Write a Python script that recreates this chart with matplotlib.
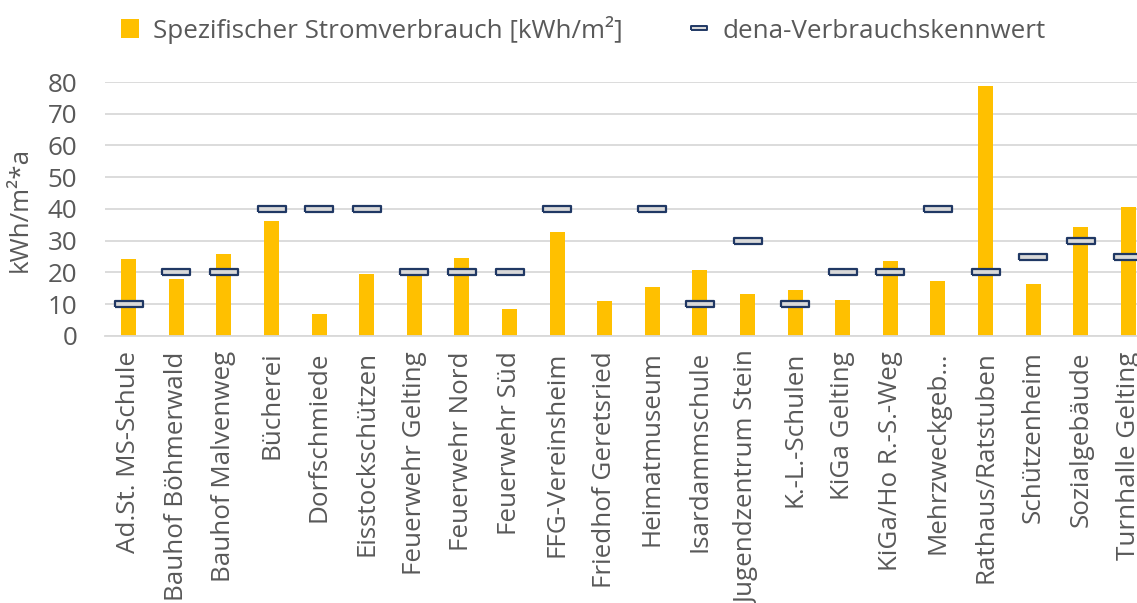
import matplotlib
matplotlib.use("Agg")
import matplotlib.pyplot as plt
from matplotlib.lines import Line2D
from matplotlib.patches import Patch
import numpy as np

plt.rcParams['font.family'] = ['Open Sans', 'DejaVu Sans']

# data
gebaeude = ["Ad.St. MS-Schule", "Bauhof Böhmerwald", "Bauhof Malvenweg", "Bücherei",
            "Dorfschmiede", "Eisstockschützen", "Feuerwehr Gelting", "Feuerwehr Nord",
            "Feuerwehr Süd", "FFG-Vereinsheim", "Friedhof Geretsried", "Heimatmuseum",
            "Isardammschule", "Jugendzentrum Stein", "K.-L.-Schulen", "KiGa Gelting",
            "KiGa/Ho R.-S.-Weg", "Mehrzweckgeb…", "Rathaus/Ratstuben", "Schützenheim",
            "Sozialgebäude", "Turnhalle Gelting"]
stromverbrauch = [24.3, 17.9, 25.8, 36.2, 6.9, 19.6, 20.8, 24.6, 8.6, 32.8, 11.1,
                  15.3, 20.8, 13.2, 14.4, 11.3, 23.6, 17.3, 78.7, 16.5, 34.3, 40.6]
dena_kennwert = [10, 20, 20, 40, 40, 40, 20, 20, 20, 40, np.nan,
                 40, 10, 30, 10, 20, 20, 40, 20, 25, 30, 25]

grau = "#595959"
gelb = "#FFC000"
navy = "#203864"
fs = 18.7

fig = plt.figure(figsize=(11.37, 6.03), dpi=100)
# right edge runs past the figure like in the original
ax = fig.add_axes([0.0923, 0.443, 0.921, 0.421])

x = np.arange(len(gebaeude))
ax.bar(x, stromverbrauch, width=0.315, color=gelb, zorder=2)

rect = [(-1, -0.22), (1, -0.22), (1, 0.22), (-1, 0.22), (-1, -0.22)]
ax.plot(x, dena_kennwert, linestyle="none", marker=rect, ms=20,
        mfc="#d9d9d9", mec=navy, mew=1.6, zorder=3)

ax.set_xlim(-0.5, len(gebaeude) - 0.5)
ax.set_ylim(0, 80)
ax.set_yticks(np.arange(0, 81, 10))
ax.yaxis.grid(True, color="#d9d9d9", lw=1.3, zorder=0)
ax.set_axisbelow(True)
for s in ["top", "right", "left"]:
    ax.spines[s].set_visible(False)
ax.spines["bottom"].set_color("#d9d9d9")
ax.spines["bottom"].set_linewidth(1.3)

ax.set_xticks(x)
ax.set_xticklabels(gebaeude, rotation=90, ha="center", va="top")
ax.tick_params(axis="x", length=0, pad=11, labelsize=fs, labelcolor=grau)
ax.tick_params(axis="y", length=0, pad=20, labelsize=fs, labelcolor=grau)

fig.text(0.018, 0.653, "kWh/m²*a", rotation=90, ha="center", va="center",
         fontsize=fs, color=grau)

handles = [
    Patch(facecolor=gelb, edgecolor="none", label="Spezifischer Stromverbrauch [kWh/m²]"),
    Line2D([], [], linestyle="none", marker=rect, ms=11, mfc="#d9d9d9", mec=navy,
           mew=1.4, label="dena-Verbrauchskennwert"),
]
leg = fig.legend(handles=handles, loc="upper center", bbox_to_anchor=(0.513, 1.013),
                 ncol=2, frameon=False, fontsize=fs, columnspacing=2.6,
                 handlelength=0.7, handleheight=0.8, handletextpad=0.55)
for t in leg.get_texts():
    t.set_color(grau)

fig.savefig("out.png", dpi=100)
